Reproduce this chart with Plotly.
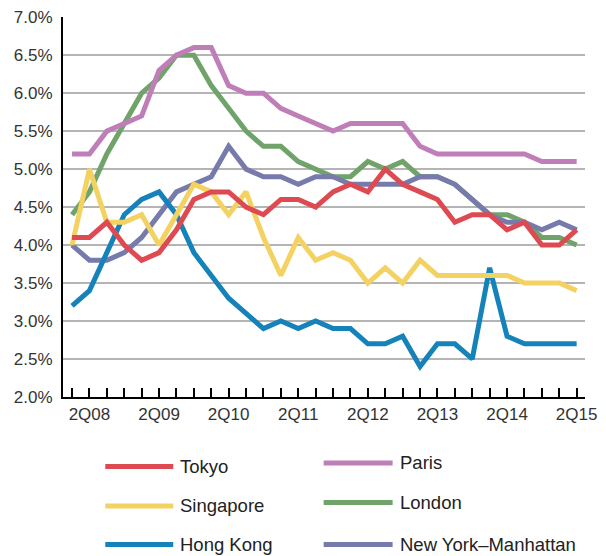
import plotly.graph_objects as go

quarters = ["1Q08", "2Q08", "3Q08", "4Q08", "1Q09", "2Q09", "3Q09", "4Q09",
            "1Q10", "2Q10", "3Q10", "4Q10", "1Q11", "2Q11", "3Q11", "4Q11",
            "1Q12", "2Q12", "3Q12", "4Q12", "1Q13", "2Q13", "3Q13", "4Q13",
            "1Q14", "2Q14", "3Q14", "4Q14", "1Q15", "2Q15"]
tick_labels = ["2Q08", "2Q09", "2Q10", "2Q11", "2Q12", "2Q13", "2Q14", "2Q15"]

tokyo = [4.1, 4.1, 4.3, 4.0, 3.8, 3.9, 4.2, 4.6, 4.7, 4.7, 4.5, 4.4, 4.6, 4.6, 4.5,
         4.7, 4.8, 4.7, 5.0, 4.8, 4.7, 4.6, 4.3, 4.4, 4.4, 4.2, 4.3, 4.0, 4.0, 4.2]
paris = [5.2, 5.2, 5.5, 5.6, 5.7, 6.3, 6.5, 6.6, 6.6, 6.1, 6.0, 6.0, 5.8, 5.7, 5.6,
         5.5, 5.6, 5.6, 5.6, 5.6, 5.3, 5.2, 5.2, 5.2, 5.2, 5.2, 5.2, 5.1, 5.1, 5.1]
singapore = [4.0, 5.0, 4.3, 4.3, 4.4, 4.0, 4.4, 4.8, 4.7, 4.4, 4.7, 4.1, 3.6, 4.1, 3.8,
             3.9, 3.8, 3.5, 3.7, 3.5, 3.8, 3.6, 3.6, 3.6, 3.6, 3.6, 3.5, 3.5, 3.5, 3.4]
london = [4.4, 4.7, 5.2, 5.6, 6.0, 6.2, 6.5, 6.5, 6.1, 5.8, 5.5, 5.3, 5.3, 5.1, 5.0,
          4.9, 4.9, 5.1, 5.0, 5.1, 4.9, 4.9, 4.8, 4.6, 4.4, 4.4, 4.3, 4.1, 4.1, 4.0]
hong_kong = [3.2, 3.4, 3.9, 4.4, 4.6, 4.7, 4.4, 3.9, 3.6, 3.3, 3.1, 2.9, 3.0, 2.9, 3.0,
             2.9, 2.9, 2.7, 2.7, 2.8, 2.4, 2.7, 2.7, 2.5, 3.7, 2.8, 2.7, 2.7, 2.7, 2.7]
new_york = [4.0, 3.8, 3.8, 3.9, 4.1, 4.4, 4.7, 4.8, 4.9, 5.3, 5.0, 4.9, 4.9, 4.8, 4.9,
            4.9, 4.8, 4.8, 4.8, 4.8, 4.9, 4.9, 4.8, 4.6, 4.4, 4.3, 4.3, 4.2, 4.3, 4.2]
y_ticks = [2.0, 2.5, 3.0, 3.5, 4.0, 4.5, 5.0, 5.5, 6.0, 6.5, 7.0]

series = {
    "Tokyo": (tokyo, "#DE4A52"),
    "Paris": (paris, "#C07EB8"),
    "Singapore": (singapore, "#F4D262"),
    "London": (london, "#70A36A"),
    "Hong Kong": (hong_kong, "#1582BA"),
    "New York\u2013Manhattan": (new_york, "#777BAC"),
}
draw_order = ["London", "New York\u2013Manhattan", "Paris", "Hong Kong", "Singapore", "Tokyo"]

# the page body adds an 8px offset; compensate
OFF = 8
W, H = 606 - OFF, 556 - OFF
L, R, T, B = 62.7 - OFF, 21, 17.3 - OFF, 159.3
PW, PH = W - L - R, H - T - B

FONT = "Liberation Sans, Arial, sans-serif"

fig = go.Figure()
for name in draw_order:
    vals, col = series[name]
    fig.add_trace(go.Scatter(x=quarters, y=vals, mode="lines", name=name,
                             line=dict(color=col, width=5), showlegend=False))

ticktext = [q if q in tick_labels else "" for q in quarters]

fig.update_layout(
    width=W, height=H,
    margin=dict(l=L, r=R, t=T, b=B, pad=0),
    plot_bgcolor="white", paper_bgcolor="white",
    font=dict(family=FONT, size=17, color="#333333"),
    xaxis=dict(type="category", range=[-0.52, 29.48], tickmode="array",
               tickvals=quarters, ticktext=ticktext, ticks="inside", ticklen=9,
               tickwidth=1.5, tickcolor="black", showline=True, linecolor="black",
               linewidth=2, showgrid=False, zeroline=False, tickangle=0,
               ticklabelstandoff=1, automargin=False, ticklabeloverflow="allow"),
    yaxis=dict(range=[1.999, 7.003], tickvals=y_ticks,
               ticktext=["%.1f%%" % v for v in y_ticks],
               showgrid=True, gridcolor="#B4B4B4", gridwidth=1.5, showline=True,
               linecolor="black", linewidth=2, zeroline=False, ticks="",
               ticklabelstandoff=5, automargin=False, ticklabeloverflow="allow"),
)

def px_to_paper(px, py):
    px -= OFF
    py -= OFF
    return (px - L) / PW, (H - B - py) / PH

legend_items = [
    ("Tokyo", 105, 173, 466),
    ("Paris", 323.5, 392.5, 462.5),
    ("Singapore", 105, 173, 505.5),
    ("London", 323.5, 392.5, 502),
    ("Hong Kong", 105, 173, 544),
    ("New York\u2013Manhattan", 323.5, 392.5, 544),
]
for name, x0, x1, y in legend_items:
    col = series[name][1]
    ax0, ay = px_to_paper(x0, y)
    ax1, _ = px_to_paper(x1, y)
    fig.add_shape(type="line", xref="paper", yref="paper", x0=ax0, x1=ax1, y0=ay, y1=ay,
                  line=dict(color=col, width=5))
    tx, _ = px_to_paper(x1 + 5, y)
    fig.add_annotation(xref="paper", yref="paper", x=tx, y=ay, text=name,
                       showarrow=False, xanchor="left", yanchor="middle",
                       font=dict(family=FONT, size=18.5, color="#222222"))

fig.write_html("out.html")
